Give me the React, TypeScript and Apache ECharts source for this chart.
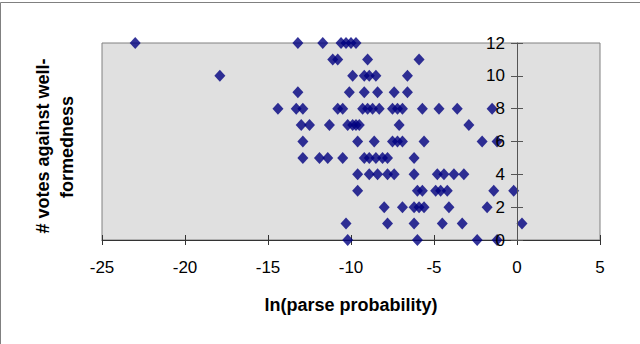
import React, { useEffect, useRef } from "react";
import * as echarts from "echarts";

// # votes against well-formedness (y) and the ln(parse probability) values (x) seen at each vote count
const voteCounts = [12, 11, 10, 9, 8, 7, 6, 5, 4, 3, 2, 1, 0];
const lnProbAt12 = [-23.0, -13.2, -11.7, -10.6, -10.3, -10.0, -9.7];
const lnProbAt11 = [-11.1, -10.8, -9.0, -5.9];
const lnProbAt10 = [-17.9, -9.9, -9.2, -8.9, -8.5, -6.6];
const lnProbAt9 = [-13.2, -10.1, -9.2, -8.4, -7.4, -6.6];
const lnProbAt8 = [-14.4, -13.3, -12.9, -10.8, -10.5, -9.3, -9.0, -8.7, -8.3, -7.5, -7.2, -6.9, -5.7, -4.7, -3.6, -1.5];
const lnProbAt7 = [-13.0, -12.5, -11.3, -10.2, -9.9, -9.7, -9.5, -7.1, -2.9];
const lnProbAt6 = [-12.9, -9.6, -8.6, -7.5, -7.2, -6.9, -5.6, -2.1, -1.2];
const lnProbAt5 = [-12.9, -11.9, -11.4, -10.5, -9.2, -8.9, -8.5, -8.1, -7.8, -6.2];
const lnProbAt4 = [-9.6, -8.9, -8.4, -7.8, -7.4, -6.2, -4.8, -4.4, -3.8, -3.2];
const lnProbAt3 = [-9.6, -6.0, -5.7, -4.9, -4.6, -4.2, -1.4, -0.2];
const lnProbAt2 = [-8.0, -6.9, -6.2, -5.9, -5.6, -4.1, -1.8];
const lnProbAt1 = [-10.3, -7.8, -6.2, -4.5, -3.3, 0.3];
const lnProbAt0 = [-10.2, -6.0, -2.4, -1.2];
const lnProbRows = [
  lnProbAt12, lnProbAt11, lnProbAt10, lnProbAt9, lnProbAt8, lnProbAt7, lnProbAt6,
  lnProbAt5, lnProbAt4, lnProbAt3, lnProbAt2, lnProbAt1, lnProbAt0,
];

const xMin = -25;
const xMax = 5;
const xTitle = "ln(parse probability)";
const yTitleLines = ["# votes against well-", "formedness"];

const FONT = "Liberation Sans, Arial, sans-serif";

export default function App() {
  const ref = useRef<HTMLDivElement>(null);

  useEffect(() => {
    if (!ref.current) return;
    const chart = echarts.init(ref.current, undefined, { renderer: "svg" });
    const points: number[][] = [];
    voteCounts.forEach((v, i) => {
      lnProbRows[i].forEach((x) => points.push([x, v]));
    });

    const gridLeft = 102;
    const gridRight = 40;
    const plotWidth = 640 - gridLeft - gridRight;
    // the value axis crosses the horizontal axis at x = 0
    const yAxisOffset = -((0 - xMin) / (xMax - xMin)) * plotWidth;

    chart.setOption({
      animation: false,
      backgroundColor: "#ffffff",
      textStyle: { fontFamily: FONT },
      grid: {
        left: gridLeft,
        right: gridRight,
        top: 43,
        bottom: 104,
        show: true,
        backgroundColor: "#e0e0e0",
        borderColor: "#808080",
        borderWidth: 1,
      },
      xAxis: [
        {
          type: "value",
          min: xMin,
          max: xMax,
          interval: 5,
          position: "bottom",
          axisLine: { onZero: false, lineStyle: { color: "#333333", width: 1 } },
          axisTick: { length: 5, lineStyle: { color: "#333333" } },
          axisLabel: { margin: 19, fontSize: 17, color: "#000000", fontFamily: FONT },
          splitLine: { show: false },
          name: xTitle,
          nameLocation: "middle",
          nameGap: 56,
          nameTextStyle: { fontWeight: "bold", fontSize: 18, color: "#000000", fontFamily: FONT },
        },
        {
          type: "value",
          min: xMin,
          max: xMax,
          interval: 5,
          position: "bottom",
          axisLine: { show: false, onZero: false },
          axisTick: { inside: true, length: 5, lineStyle: { color: "#333333" } },
          axisLabel: { show: false },
          splitLine: { show: false },
        },
      ],
      yAxis: [
        {
          type: "value",
          min: 0,
          max: 12,
          interval: 2,
          position: "left",
          offset: yAxisOffset,
          z: 5,
          axisLine: { show: true, onZero: false, lineStyle: { color: "#555555", width: 1 } },
          axisTick: { length: 6, lineStyle: { color: "#555555" } },
          axisLabel: { margin: 12, fontSize: 17, color: "#000000", fontFamily: FONT },
          splitLine: { show: false },
        },
        {
          type: "value",
          min: 0,
          max: 12,
          interval: 2,
          position: "left",
          offset: yAxisOffset,
          z: 5,
          axisLine: { show: false, onZero: false },
          axisTick: { inside: true, length: 6, lineStyle: { color: "#555555" } },
          axisLabel: { show: false },
          splitLine: { show: false },
        },
      ],
      series: [
        {
          type: "scatter",
          xAxisIndex: 0,
          yAxisIndex: 0,
          symbol: "diamond",
          symbolSize: [11, 12],
          itemStyle: { color: "#000080" },
          data: points,
          z: 3,
        },
      ],
      graphic: [
        {
          type: "line",
          shape: { x1: 0.5, y1: 2.5, x2: 640, y2: 2.5 },
          style: { stroke: "#808080", lineWidth: 1 },
        },
        {
          type: "line",
          shape: { x1: 0.5, y1: 2.5, x2: 0.5, y2: 344 },
          style: { stroke: "#808080", lineWidth: 1 },
        },
        {
          type: "text",
          x: 43,
          y: 146,
          rotation: Math.PI / 2,
          style: {
            text: yTitleLines[0],
            fontSize: 18,
            fontWeight: "bold",
            fontFamily: FONT,
            fill: "#000000",
            textAlign: "center",
            textVerticalAlign: "middle",
          },
        },
        {
          type: "text",
          x: 67,
          y: 147,
          rotation: Math.PI / 2,
          style: {
            text: yTitleLines[1],
            fontSize: 18,
            fontWeight: "bold",
            fontFamily: FONT,
            fill: "#000000",
            textAlign: "center",
            textVerticalAlign: "middle",
          },
        },
      ],
    });

    return () => chart.dispose();
  }, []);

  return (
    <div
      ref={ref}
      style={{ position: "absolute", left: 0, top: 0, width: 640, height: 344, background: "#ffffff" }}
    />
  );
}
